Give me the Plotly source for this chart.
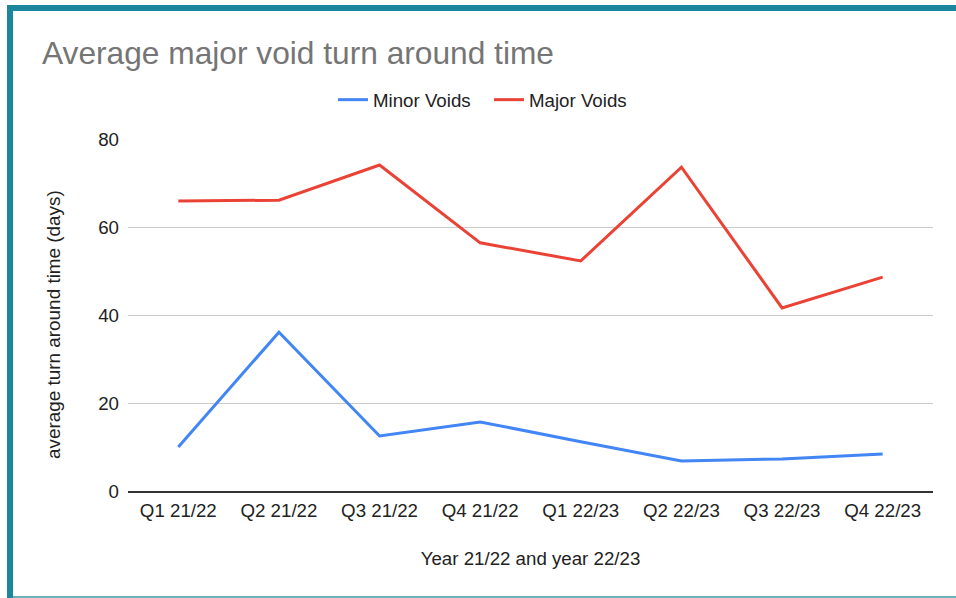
import plotly.graph_objects as go

categories = ["Q1 21/22", "Q2 21/22", "Q3 21/22", "Q4 21/22",
              "Q1 22/23", "Q2 22/23", "Q3 22/23", "Q4 22/23"]
minor_voids = [10.0, 36.1, 12.5, 15.7, 11.2, 6.8, 7.3, 8.4]
major_voids = [65.9, 66.1, 74.1, 56.4, 52.3, 73.6, 41.6, 48.6]
y_ticks = [0, 20, 40, 60, 80]

W, H = 956, 598
ML, MR, MT, MB = 128, 23, 139, 107
PW, PH = W - ML - MR, H - MT - MB

def px_x(px):
    return (px - ML) / PW

def px_y(py):
    return (H - MB - py) / PH

FONT = "Liberation Sans, Arial, sans-serif"
FS = 18.7
TEAL = "#1b869d"

fig = go.Figure()
fig.add_trace(go.Scatter(x=categories, y=minor_voids, name="Minor Voids",
                         mode="lines", line=dict(color="#4285f4", width=3)))
fig.add_trace(go.Scatter(x=categories, y=major_voids, name="Major Voids",
                         mode="lines", line=dict(color="#ea4335", width=3)))

fig.update_layout(
    width=W, height=H,
    margin=dict(l=ML, r=MR, t=MT, b=MB),
    paper_bgcolor="white", plot_bgcolor="white",
    font=dict(family=FONT, size=FS, color="#222222"),
    title=dict(text="Average major void turn around time",
               font=dict(family=FONT, size=31.7, color="#757575"),
               xref="container", yref="container",
               x=42 / W, xanchor="left", y=1 - 53 / H, yanchor="middle"),
    legend=dict(orientation="h", xref="paper", yref="paper",
                x=px_x(333), xanchor="left", y=px_y(100), yanchor="middle",
                font=dict(family=FONT, size=FS, color="#222222"),
                bgcolor="rgba(0,0,0,0)", itemwidth=30,
                entrywidth=111, entrywidthmode="pixels"),
    showlegend=True,
    xaxis=dict(type="category", range=[-0.5, 7.5], showgrid=False,
               showline=True, linecolor="#333333", linewidth=1.5,
               ticks="", ticklabelstandoff=2,
               tickfont=dict(size=FS, color="#222222"),
               title=dict(text="Year 21/22 and year 22/23", standoff=32,
                          font=dict(size=FS, color="#222222"))),
    yaxis=dict(range=[0, 80], tickvals=y_ticks, showgrid=True,
               gridcolor="#cccccc", gridwidth=1, zeroline=False,
               showline=False, ticks="", ticklabelstandoff=8,
               tickfont=dict(size=FS, color="#222222")),
    annotations=[
        dict(text="average turn around time (days)", textangle=-90,
             xref="paper", yref="paper", x=px_x(53), y=px_y(325),
             xanchor="center", yanchor="middle", showarrow=False,
             font=dict(family=FONT, size=18.9, color="#222222")),
    ],
    shapes=[
        dict(type="line", xref="paper", yref="paper",
             x0=px_x(10), x1=px_x(10), y0=px_y(5), y1=px_y(598),
             line=dict(color=TEAL, width=6), layer="above"),
        dict(type="line", xref="paper", yref="paper",
             x0=px_x(7), x1=px_x(956), y0=px_y(8), y1=px_y(8),
             line=dict(color=TEAL, width=6), layer="above"),
        dict(type="line", xref="paper", yref="paper",
             x0=px_x(13), x1=px_x(956), y0=px_y(597), y1=px_y(597),
             line=dict(color="#6fb0bf", width=2), layer="above"),
    ],
)

fig.write_html("out.html")
